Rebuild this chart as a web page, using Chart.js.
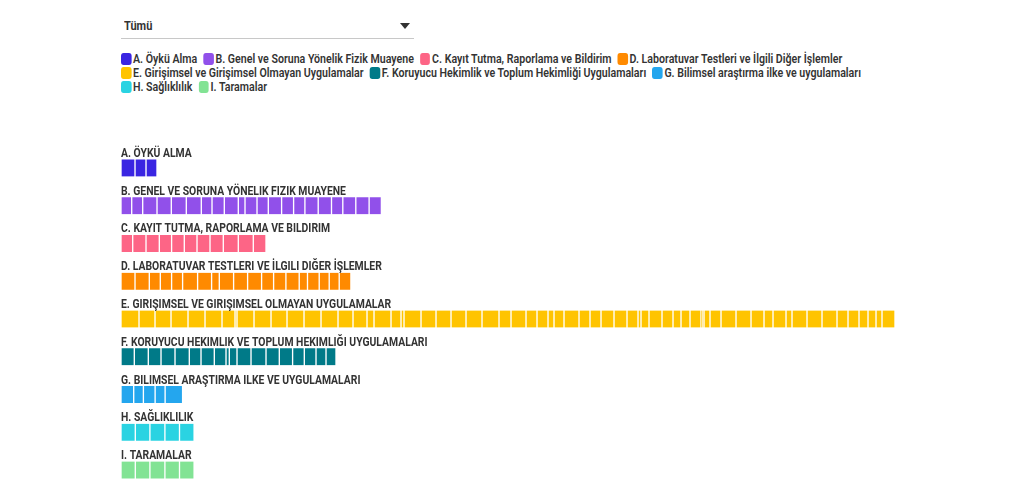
<!DOCTYPE html>
<html lang="tr">
<head>
<meta charset="utf-8">
<script src="https://cdn.jsdelivr.net/npm/chart.js@4.4.1/dist/chart.umd.min.js"></script>
<style>
  body { margin: 0; background: #fff; font-family: Roboto, sans-serif; color: #333; }
  #wrap { position: relative; width: 1020px; height: 499px; overflow: hidden; }
  #select { position: absolute; left: 121px; top: 12px; width: 293px; height: 26px; border-bottom: 1px solid #c8c8c8; }
  #select span { position: absolute; left: 3px; top: 7px; font-size: 12px; font-weight: 700; transform: scaleX(0.92); transform-origin: left center; }
  #select i { position: absolute; right: 4px; top: 11px; width: 0; height: 0; border-left: 5px solid transparent; border-right: 5px solid transparent; border-top: 6px solid #333; }
  /* condensed look: scale the legend horizontally */
  #legend { position: absolute; left: 121px; top: 52px; width: 880px; display: flex; flex-wrap: wrap; font-size: 12px; font-weight: 600; line-height: 14px; transform: scaleX(0.885); transform-origin: left top; }
  #legend div { display: flex; align-items: center; margin-right: 7px; white-space: nowrap; }
  #legend b { display: inline-block; width: 11.5px; height: 12px; border-radius: 3px; margin-right: 2px; }
  #chartBox { position: absolute; left: 0; top: 100px; }
</style>
</head>
<body>
<div id="wrap">
  <div id="select"><span>Tümü</span><i></i></div>
  <div id="legend"></div>
  <div id="chartBox"><canvas id="skillsChart" width="1020" height="399"></canvas></div>
</div>
<script>
const legendLabels = [
  'A. Öykü Alma',
  'B. Genel ve Soruna Yönelik Fizik Muayene',
  'C. Kayıt Tutma, Raporlama ve Bildirim',
  'D. Laboratuvar Testleri ve İlgili Diğer İşlemler',
  'E. Girişimsel ve Girişimsel Olmayan Uygulamalar',
  'F. Koruyucu Hekimlik ve Toplum Hekimliği Uygulamaları',
  'G. Bilimsel araştırma ilke ve uygulamaları',
  'H. Sağlıklılık',
  'I. Taramalar'
];
const categories = [
  'A. ÖYKÜ ALMA',
  'B. GENEL VE SORUNA YÖNELIK FIZIK MUAYENE',
  'C. KAYIT TUTMA, RAPORLAMA VE BILDIRIM',
  'D. LABORATUVAR TESTLERI VE İLGILI DIĞER İŞLEMLER',
  'E. GIRIŞIMSEL VE GIRIŞIMSEL OLMAYAN UYGULAMALAR',
  'F. KORUYUCU HEKIMLIK VE TOPLUM HEKIMLIĞI UYGULAMALARI',
  'G. BILIMSEL ARAŞTIRMA ILKE VE UYGULAMALARI',
  'H. SAĞLIKLILIK',
  'I. TARAMALAR'
];
const colors = ['#3a25e2', '#9150ea', '#fd6586', '#ff8a00', '#ffc400', '#007a88', '#24a6ee', '#2ad3e2', '#82e394'];

// segment sizes of each group
const segA = [14, 11, 11];
const segB = [10.7, 11, 14.3, 14.3, 15, 15, 10.7, 12.3, 14, 6.7, 12, 11.3, 13.3, 12, 11.3, 13.3, 13.3, 11.3, 13, 13.3, 12.3];
const segC = [11.7, 13.3, 13.3, 12.3, 12.7, 12.7, 13, 13.3, 15, 15, 12.7];
const segD = [14, 14.3, 11, 11.3, 11, 15, 14, 7.7, 14.3, 14, 14, 12, 12.3, 13.3, 8.3, 11.7, 10, 10, 11.7];
const segE = [18, 16, 16, 17, 17, 17, 13, 2, 17, 17, 16, 17, 17, 17, 15, 14, 7, 17, 10, 3, 17, 15, 15, 15, 16, 17, 12,
  15, 11, 11, 6, 10, 15, 11, 11, 13, 13, 11, 3, 8, 13, 11, 8, 9, 11, 1, 2, 6, 11, 15, 15, 13, 9, 13, 6, 15, 15, 15, 11, 11, 9, 8, 6, 13];
const segF = [13.3, 14, 12.7, 14, 14.3, 11.7, 13.3, 11.7, 3.3, 7.7, 14, 15, 13.3, 13.3, 11.7, 11.7, 10, 10];
const segG = [12.7, 9.7, 11.7, 10, 17.5];
const segH = [14.3, 14.6, 15, 14.6, 14.6];
const segI = [14.3, 14.6, 15, 14.6, 14.6];
const segments = [segA, segB, segC, segD, segE, segF, segG, segH, segI];

// legend
const legend = document.getElementById('legend');
legendLabels.forEach((t, i) => {
  const d = document.createElement('div');
  d.innerHTML = '<b style="background:' + colors[i] + '"></b>';
  d.appendChild(document.createTextNode(t));
  legend.appendChild(d);
});

const maxLen = Math.max(...segments.map(s => s.length));
const datasets = [];
for (let k = 0; k < maxLen; k++) {
  datasets.push({
    data: segments.map(s => (k < s.length ? s[k] : null)),
    backgroundColor: colors,
    borderColor: 'rgba(255,255,255,0.7)',
    borderWidth: { left: 1, right: 1, top: 0, bottom: 0 },
    borderSkipped: false,
    barThickness: 17
  });
}

// group names above each bar
const groupLabels = {
  id: 'groupLabels',
  afterDatasetsDraw(chart) {
    const ctx = chart.ctx;
    const y = chart.scales.y;
    const sx = 0.865;
    ctx.save();
    ctx.scale(sx, 1);
    ctx.font = 'bold 12px Roboto, sans-serif';
    ctx.fillStyle = '#333';
    ctx.textBaseline = 'middle';
    categories.forEach((c, i) => {
      ctx.fillText(c, chart.chartArea.left / sx, y.getPixelForValue(i) - 14);
    });
    ctx.restore();
  }
};

let skillsChart = document.getElementById('skillsChart').getContext('2d');

let new_skills_chart = new Chart(skillsChart, {
  type: 'bar',
  data: {
    labels: categories,
    datasets: datasets
  },
  options: {
    indexAxis: 'y',
    responsive: false,
    animation: false,
    layout: { padding: { left: 121, right: 119, top: 49, bottom: 10 } },
    scales: {
      x: { stacked: true, min: 0, max: 780, display: false },
      y: { stacked: true, display: false }
    },
    plugins: {
      legend: { display: false },
      tooltip: { enabled: false }
    }
  },
  plugins: [groupLabels]
});
</script>
</body>
</html>
